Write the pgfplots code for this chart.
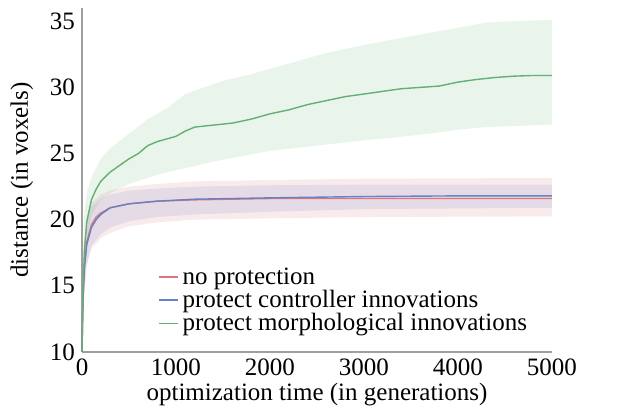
\documentclass[border=0pt]{standalone}
\usepackage{pgfplots}
\pgfplotsset{compat=1.18}
\usepgfplotslibrary{fillbetween}
\usepackage{fontspec}
\setmainfont{Liberation Serif}
\definecolor{cred}{RGB}{218,118,128}
\definecolor{cblue}{RGB}{105,128,195}
\definecolor{cgreen}{RGB}{100,175,115}
\definecolor{spine}{RGB}{160,160,160}
\begin{document}
\begin{tikzpicture}
\begin{axis}[
  scale only axis, width=235pt, height=172pt,
  xmin=0, xmax=5000, ymin=10, ymax=36,
  axis x line*=bottom, axis y line*=left,
  axis line style={spine, line width=0.6pt, -},
  xtick={0,1000,2000,3000,4000,5000},
  ytick={10,15,20,25,30,35},
  major tick length=0pt,
  scaled x ticks=false,
  xticklabel style={/pgf/number format/1000 sep={}},
  /pgf/number format/assume math mode=true,
  tick label style={font=\fontsize{12.5}{14}\selectfont},
  xlabel={optimization time (in generations)},
  ylabel={distance (in voxels)},
  every axis x label/.style={at={(axis description cs:0.5,0)}, anchor=center, yshift=-21.5pt, font=\fontsize{12.5}{14}\selectfont},
  every axis y label/.style={at={(axis description cs:-0.128,0.5)}, rotate=90, anchor=center, font=\fontsize{12.5}{14}\selectfont},
  legend style={at={(axis description cs:0.148,0.27)}, anchor=north west, draw=none, fill=none,
     font=\fontsize{12.5}{14}\selectfont, row sep=-2.5pt},
  legend cell align=left,
  legend image code/.code={\draw[#1, line width=0.8pt] (0pt,0pt) -- (9.5pt,0pt);},
  clip=false,
]
% red band
\addplot[draw=none, name path=ru, forget plot] coordinates {(0,10)(10,16)(25,18.5)(50,20.3)(100,21.3)(200,21.9)(300,22.2)(500,22.5)(800,22.7)(1200,22.9)(2000,23.0)(3000,23.1)(5000,23.15)};
\addplot[draw=none, name path=rl, forget plot] coordinates {(0,10)(10,12)(25,14.5)(50,16.5)(100,17.8)(200,18.6)(300,19.0)(500,19.5)(800,19.8)(1200,20.0)(2000,20.1)(3000,20.2)(5000,20.25)};
\addplot[fill=cred, fill opacity=0.15, draw=none, forget plot] fill between[of=ru and rl];
% blue band
\addplot[draw=none, name path=bu, forget plot] coordinates {(0,10)(10,15.8)(25,18.2)(50,20)(100,21.0)(200,21.6)(300,21.9)(500,22.2)(800,22.35)(1200,22.5)(2000,22.6)(3000,22.65)(5000,22.65)};
\addplot[draw=none, name path=bl, forget plot] coordinates {(0,10)(10,12.2)(25,14.6)(50,16.6)(100,18.0)(200,18.9)(300,19.4)(500,19.9)(800,20.2)(1200,20.4)(2000,20.6)(3000,20.8)(5000,20.9)};
\addplot[fill=cblue, fill opacity=0.15, draw=none, forget plot] fill between[of=bu and bl];
% green band
\addplot[draw=none, name path=gu, forget plot] coordinates {(0,10)(10,17)(25,20.5)(50,22)(100,23.2)(200,24.6)(300,25.4)(500,26.5)(700,27.6)(900,28.4)(1100,29.5)(1300,30.0)(1500,30.5)(1800,31.0)(2000,31.4)(2300,32.0)(2600,32.6)(3000,33.2)(3300,33.6)(3600,34.0)(4000,34.5)(4300,34.9)(4600,35.0)(5000,35.1)};
\addplot[draw=none, name path=gl, forget plot] coordinates {(0,10)(10,12.5)(25,15)(50,18)(100,20.3)(200,21.5)(300,22.0)(500,22.7)(800,23.4)(1100,23.9)(1400,24.4)(1700,24.8)(2000,25.2)(2500,25.6)(3000,26.0)(3300,26.2)(3700,26.5)(4000,26.8)(4300,27.0)(4700,27.1)(5000,27.2)};
\addplot[fill=cgreen, fill opacity=0.14, draw=none, forget plot] fill between[of=gu and gl];
% means
\addplot[cred, line width=0.7pt] coordinates {(0,10)(10,14)(25,16.5)(50,18.3)(100,19.6)(150,20.2)(200,20.5)(300,20.9)(500,21.2)(800,21.4)(1200,21.5)(1600,21.55)(2000,21.6)(3000,21.6)(4000,21.6)(5000,21.6)};
\addlegendentry{no protection}
\addplot[cblue, line width=0.7pt] coordinates {(0,10)(10,13.8)(25,16.3)(50,18.1)(100,19.4)(150,20.0)(200,20.4)(300,20.9)(500,21.2)(800,21.4)(1200,21.55)(1600,21.6)(2000,21.65)(3000,21.75)(4000,21.8)(5000,21.8)};
\addlegendentry{protect controller innovations}
\addplot[cgreen, line width=0.7pt] coordinates {(0,10)(10,14.5)(25,17.5)(50,19.8)(100,21.5)(150,22.3)(200,22.9)(300,23.6)(400,24.1)(500,24.6)(600,25.0)(700,25.6)(800,25.9)(900,26.1)(1000,26.3)(1100,26.7)(1200,27.0)(1400,27.15)(1600,27.3)(1800,27.6)(2000,28.0)(2200,28.3)(2400,28.7)(2600,29.0)(2800,29.3)(3000,29.5)(3200,29.7)(3400,29.9)(3600,30.0)(3800,30.1)(4000,30.4)(4200,30.6)(4400,30.75)(4600,30.85)(4800,30.9)(5000,30.9)};
\addlegendentry{protect morphological innovations}
\end{axis}
\pgfresetboundingbox
\useasboundingbox (-41pt,-29pt) rectangle (275pt,176pt);
\end{tikzpicture}
\end{document}
